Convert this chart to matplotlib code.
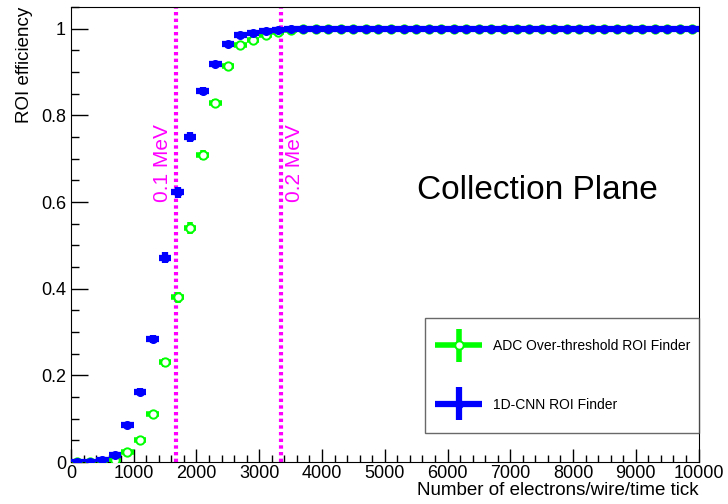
import numpy as np
import matplotlib
matplotlib.use("Agg")
import matplotlib.pyplot as plt
from matplotlib.ticker import MultipleLocator
from matplotlib.container import ErrorbarContainer
from matplotlib.legend_handler import HandlerErrorbar

plt.rcParams["font.family"] = ["Liberation Sans", "DejaVu Sans"]

# ── data: 200-wide bins, centres 100 ... 9900 ────────────────────────────────
bin_centres = np.arange(100, 10000, 200)
bin_half = 100

eff_adc = [0.0, 0.0, 0.0, 0.004, 0.023, 0.050, 0.112, 0.230, 0.380, 0.540,
           0.709, 0.829, 0.914, 0.963, 0.973, 0.986, 0.992, 0.998] + [1.0] * 32
err_adc = [0.0, 0.0, 0.0, 0.002, 0.004, 0.005, 0.007, 0.010, 0.012, 0.013,
           0.012, 0.010, 0.007, 0.005, 0.004, 0.003, 0.002, 0.001] + [0.0] * 32

eff_cnn = [0.0, 0.001, 0.005, 0.016, 0.086, 0.163, 0.285, 0.472, 0.623, 0.750,
           0.856, 0.918, 0.964, 0.985, 0.990, 0.995, 0.998, 0.999] + [1.0] * 32
err_cnn = [0.0, 0.001, 0.002, 0.003, 0.005, 0.007, 0.009, 0.012, 0.013, 0.012,
           0.010, 0.007, 0.005, 0.003, 0.002, 0.002, 0.001, 0.001] + [0.0] * 32

mev_lines = [1675, 3350]
mev_labels = ["0.1 MeV", "0.2 MeV"]

GREEN = "#00ff00"
BLUE = "#0000ff"
MAGENTA = "#ff00ff"

fig = plt.figure(figsize=(7.28, 5.04), dpi=100)
ax = fig.add_axes([0.0975, 0.083, 0.862, 0.903])

h_adc = ax.errorbar(bin_centres, eff_adc, xerr=bin_half, yerr=err_adc, fmt="o",
                    color=GREEN, mfc="white", mec=GREEN, mew=1.4, ms=6,
                    elinewidth=4, capsize=0, zorder=3)
h_cnn = ax.errorbar(bin_centres, eff_cnn, xerr=bin_half, yerr=err_cnn, fmt="o",
                    color=BLUE, mfc=BLUE, mec=BLUE, ms=5.5,
                    elinewidth=4.5, capsize=0, zorder=4)

for xv in mev_lines:
    ax.axvline(xv, color=MAGENTA, lw=3, ls=(0, (0.8, 0.8)), zorder=2)
ax.text(mev_lines[0] - 60, 0.60, mev_labels[0], rotation=90, color=MAGENTA,
        fontsize=15, ha="right", va="bottom")
ax.text(mev_lines[1] + 60, 0.60, mev_labels[1], rotation=90, color=MAGENTA,
        fontsize=15, ha="left", va="bottom")

ax.text(7430, 0.627, "Collection Plane", fontsize=24, ha="center", va="center")

ax.set_xlim(0, 10000)
ax.set_ylim(0, 1.05)
ax.xaxis.set_major_locator(MultipleLocator(1000))
ax.xaxis.set_minor_locator(MultipleLocator(200))
ax.yaxis.set_minor_locator(MultipleLocator(0.05))
ax.set_yticks([0, 0.2, 0.4, 0.6, 0.8, 1.0])
ax.set_yticklabels(["0", "0.2", "0.4", "0.6", "0.8", "1"])
ax.tick_params(which="both", direction="in", labelsize=13, width=1)
ax.tick_params(axis="y", which="major", length=12)
ax.tick_params(axis="y", which="minor", length=6)
ax.tick_params(axis="x", which="major", length=9.5, pad=2)
ax.tick_params(axis="x", which="minor", length=5)

ax.set_xlabel("Number of electrons/wire/time tick", fontsize=13.5, loc="right",
              labelpad=0)
ax.set_ylabel("ROI efficiency", fontsize=13.5, loc="top", labelpad=6)

leg = ax.legend([h_adc, h_cnn],
                ["ADC Over-threshold ROI Finder", "1D-CNN ROI Finder"],
                loc="lower right", bbox_to_anchor=(0.5636, 0.064, 0.4364, 0.252),
                mode="expand", fontsize=10, frameon=True, fancybox=False,
                edgecolor="#444444", labelspacing=3.2, handlelength=1.8,
                handletextpad=1.55, borderpad=1.55, borderaxespad=0,
                handler_map={ErrorbarContainer: HandlerErrorbar(xerr_size=1.7,
                                                                yerr_size=1.2)})
leg.get_frame().set_linewidth(1.0)

plt.savefig("out.png", dpi=100)
